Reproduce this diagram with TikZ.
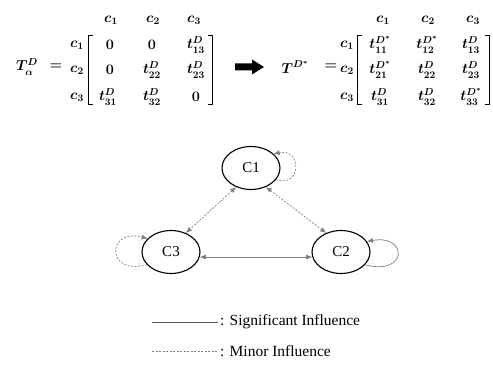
\documentclass[tikz,border=0pt]{standalone}
\usepackage{amsmath}
\usepackage{fontspec}
\setmainfont{Liberation Serif}
\usetikzlibrary{arrows.meta,shapes.geometric}
\begin{document}
\begin{tikzpicture}[x=1pt,y=-1pt,
  mtx/.style={inner sep=0pt,font=\fontsize{14.4}{16}\selectfont\boldmath},
  concept/.style={draw=black,line width=1.1pt,ellipse,minimum width=58pt,minimum height=43pt,inner sep=0pt,font=\fontsize{15}{17}\selectfont},
  link/.style={draw=gray,line width=0.7pt,{Latex[length=6pt,width=5pt]}-{Latex[length=6pt,width=5pt]}},
  selfloop/.style={draw=gray,line width=0.7pt,-{Latex[length=6pt,width=5pt]}},
  minor/.style={dash pattern=on 2pt off 1.5pt},
  bracket/.style={draw=black,line width=0.9pt},
  legendtxt/.style={anchor=west,inner sep=0pt,font=\fontsize{15.5}{17}\selectfont}
]
\useasboundingbox (0,0) rectangle (493,374);

% ---------- left matrix ----------
\node[mtx] (tl) at (27,67) {$T^{D}_{\alpha}$};
\node[mtx] (eql) at (56,67) {$=$};
\foreach \x/\i in {111/1,153/2,194/3} \node[mtx] (lh\i) at (\x,20) {$c_{\i}$};
\foreach \y/\i in {45/1,70/2,97/3} \node[mtx] (lr\i) at (77,\y) {$c_{\i}$};
\node[mtx] (l11) at (110,45) {$0$};
\node[mtx] (l12) at (152,45) {$0$};
\node[mtx] (l13) at (196,45) {$t^{D}_{13}$};
\node[mtx] (l21) at (110,70) {$0$};
\node[mtx] (l22) at (152,70) {$t^{D}_{22}$};
\node[mtx] (l23) at (196,70) {$t^{D}_{23}$};
\node[mtx] (l31) at (108,97) {$t^{D}_{31}$};
\node[mtx] (l32) at (152,97) {$t^{D}_{32}$};
\node[mtx] (l33) at (196,97) {$0$};
\draw[bracket] (93,35) -- (88.5,35) -- (88.5,104) -- (93,104);
\draw[bracket] (208,35) -- (212.5,35) -- (212.5,104) -- (208,104);

% ---------- big arrow ----------
\fill[black] (235,63.5) -- (252,63.5) -- (252,59.5) -- (264,67) -- (252,74.5) -- (252,70.5) -- (235,70.5) -- cycle;

% ---------- right matrix ----------
\node[mtx] (tr) at (295,67) {$T^{D^{*}}$};
\node[mtx] (eqr) at (331,67) {$=$};
\foreach \x/\i in {383/1,428/2,473/3} \node[mtx] (rh\i) at (\x,20) {$c_{\i}$};
\foreach \y/\i in {45/1,70/2,97/3} \node[mtx] (rr\i) at (347,\y) {$c_{\i}$};
\node[mtx] (r11) at (380,45) {$t^{D^{*}}_{11}$};
\node[mtx] (r12) at (427,45) {$t^{D^{*}}_{12}$};
\node[mtx] (r13) at (471,45) {$t^{D}_{13}$};
\node[mtx] (r21) at (380,70) {$t^{D^{*}}_{21}$};
\node[mtx] (r22) at (427,70) {$t^{D}_{22}$};
\node[mtx] (r23) at (471,70) {$t^{D}_{23}$};
\node[mtx] (r31) at (380,97) {$t^{D}_{31}$};
\node[mtx] (r32) at (427,97) {$t^{D}_{32}$};
\node[mtx] (r33) at (471,97) {$t^{D^{*}}_{33}$};
\draw[bracket] (362,35) -- (357.5,35) -- (357.5,104) -- (362,104);
\draw[bracket] (485,35) -- (489.5,35) -- (489.5,104) -- (485,104);

% ---------- graph ----------
\node[concept] (C1) at (251,168) {C1};
\node[concept] (C3) at (171,252) {C3};
\node[concept] (C2) at (341,252) {C2};

\draw[link,minor] (C1.-128) -- (C3.52);
\draw[link,minor] (C1.-52) -- (C2.128);
\draw[link] (C3.-10) -- (C2.-170);

\draw[selfloop,minor] (C1.-25) .. controls (302,188) and (302,148) .. (C1.32);
\draw[selfloop] (C2.-28) .. controls (408,276) and (408,234) .. (C2.22);
\draw[selfloop,minor] (C3.-152) .. controls (106,276) and (106,228) .. (C3.150);

% ---------- legend ----------
\coordinate (s1) at (152,322);
\coordinate (s2) at (218,322);
\coordinate (m1) at (152,351);
\coordinate (m2) at (218,351);
\draw[gray!70!black,line width=0.7pt] (s1) -- (s2);
\draw[gray,line width=0.7pt,minor] (m1) -- (m2);
\node[legendtxt] (lsig) at (220,322) {: Significant Influence};
\node[legendtxt] (lmin) at (220,351) {: Minor Influence};
\end{tikzpicture}
\end{document}
